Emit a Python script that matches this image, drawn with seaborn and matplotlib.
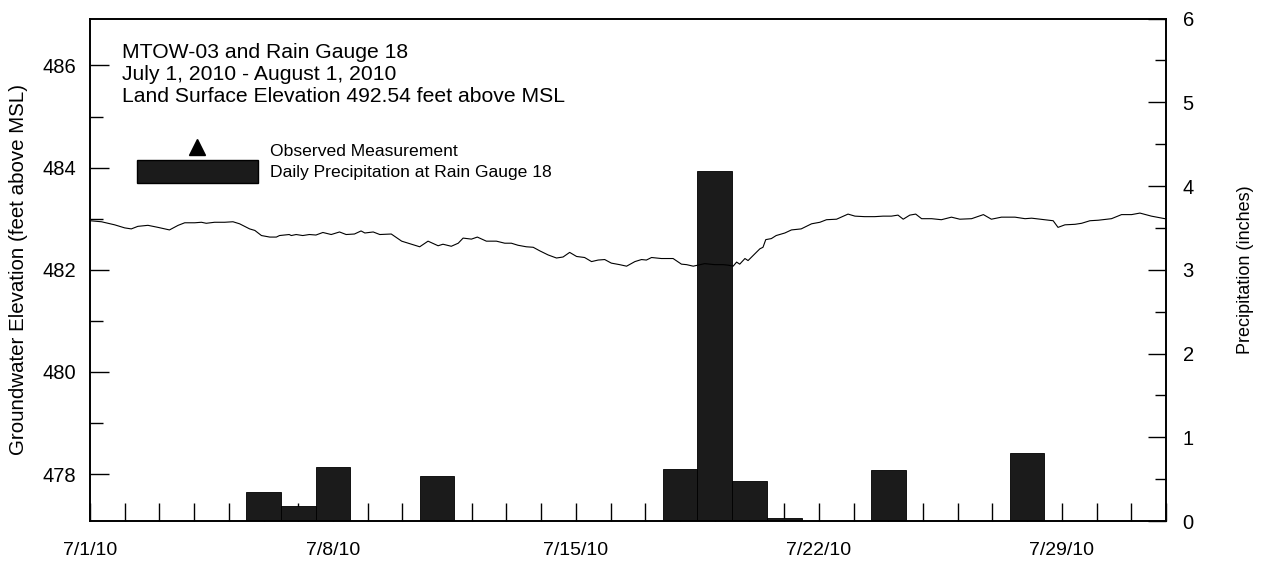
import pandas as pd
import seaborn as sns
import matplotlib.pyplot as plt
import matplotlib.dates as mdates
from matplotlib.ticker import MultipleLocator, FuncFormatter
from matplotlib.lines import Line2D
from matplotlib.patches import Patch

# Groundwater level at MTOW-03 (days after 7/1/2010, feet above MSL)
gw_day = [0.00, 0.33, 0.71, 1.00, 1.19, 1.38, 1.67, 1.96, 2.29, 2.54, 2.73, 3.02, 3.21, 3.35,
          3.59, 3.88, 4.12, 4.31, 4.60, 4.75, 4.94, 5.18, 5.37, 5.46, 5.74, 5.80, 5.94, 6.13,
          6.32, 6.51, 6.71, 6.95, 7.19, 7.38, 7.62, 7.81, 7.92, 8.16, 8.35, 8.68, 8.98, 9.26,
          9.50, 9.74, 10.03, 10.17, 10.41, 10.61, 10.75, 10.99, 11.16, 11.42, 11.71, 11.95,
          12.14, 12.33, 12.57, 12.77, 12.96, 13.20, 13.44, 13.63, 13.82, 14.02, 14.25, 14.45,
          14.64, 14.83, 15.02, 15.26, 15.46, 15.70, 15.89, 16.03, 16.18, 16.46, 16.80, 17.04,
          17.19, 17.38, 17.57, 17.71, 18.00, 18.24, 18.39, 18.53, 18.63, 18.72, 18.87, 18.96,
          19.15, 19.30, 19.39, 19.47, 19.63, 19.77, 20.02, 20.21, 20.49, 20.79, 21.03, 21.22,
          21.51, 21.84, 22.04, 22.32, 22.61, 22.85, 23.09, 23.28, 23.43, 23.62, 23.79, 23.96,
          24.25, 24.53, 24.82, 25.06, 25.40, 25.74, 25.97, 26.26, 26.65, 26.94, 27.13, 27.51,
          27.75, 27.89, 28.09, 28.38, 28.57, 28.81, 29.05, 29.43, 29.72, 30.01, 30.25, 30.58,
          30.97]
gw_elev = [482.96, 482.94, 482.88, 482.82, 482.80, 482.85, 482.87, 482.83, 482.78, 482.87,
           482.92, 482.92, 482.93, 482.91, 482.93, 482.93, 482.94, 482.90, 482.80, 482.77,
           482.67, 482.64, 482.64, 482.67, 482.69, 482.67, 482.69, 482.67, 482.69, 482.68,
           482.73, 482.69, 482.74, 482.69, 482.70, 482.76, 482.72, 482.74, 482.69, 482.70,
           482.56, 482.50, 482.45, 482.56, 482.47, 482.50, 482.46, 482.52, 482.62, 482.60,
           482.64, 482.56, 482.56, 482.52, 482.52, 482.48, 482.45, 482.44, 482.37, 482.29,
           482.23, 482.25, 482.34, 482.26, 482.24, 482.16, 482.19, 482.20, 482.13, 482.10,
           482.07, 482.16, 482.20, 482.19, 482.24, 482.22, 482.22, 482.11, 482.10, 482.07,
           482.10, 482.12, 482.10, 482.10, 482.09, 482.07, 482.15, 482.11, 482.22, 482.18,
           482.31, 482.41, 482.44, 482.59, 482.61, 482.67, 482.72, 482.78, 482.80, 482.90,
           482.93, 482.98, 482.99, 483.09, 483.05, 483.04, 483.04, 483.05, 483.05, 483.07,
           482.99, 483.07, 483.09, 483.00, 483.00, 482.98, 483.03, 482.99, 483.00, 483.08,
           482.99, 483.03, 483.03, 483.00, 483.01, 482.98, 482.96, 482.83, 482.88, 482.89,
           482.91, 482.96, 482.97, 483.00, 483.08, 483.08, 483.11, 483.05, 483.00]

# Daily precipitation at Rain Gauge 18 (inches)
rain_dates = ["2010-07-06", "2010-07-07", "2010-07-08", "2010-07-11", "2010-07-18",
              "2010-07-19", "2010-07-20", "2010-07-21", "2010-07-24", "2010-07-28"]
rain_in = [0.35, 0.18, 0.65, 0.54, 0.62, 4.18, 0.48, 0.04, 0.61, 0.81]

xtick_dates = ["2010-07-01", "2010-07-08", "2010-07-15", "2010-07-22", "2010-07-29"]
title_lines = ["MTOW-03 and Rain Gauge 18",
               "July 1, 2010 - August 1, 2010",
               "Land Surface Elevation 492.54 feet above MSL"]

start = pd.Timestamp("2010-07-01")
gw = pd.DataFrame({"date": start + pd.to_timedelta(gw_day, unit="D"), "elev": gw_elev})
rain = pd.DataFrame({"date": pd.to_datetime(rain_dates), "inches": rain_in})

sns.set_style("ticks")
plt.rcParams['font.family'] = ['Liberation Sans', 'DejaVu Sans']
plt.rcParams['text.color'] = 'black'
plt.rcParams['axes.labelcolor'] = 'black'
plt.rcParams['xtick.color'] = 'black'
plt.rcParams['ytick.color'] = 'black'

fig = plt.figure(figsize=(12.62, 5.61), dpi=100)
ax = fig.add_axes([0.0713, 0.0713, 0.8526, 0.8957])
ax2 = ax.twinx()

# bars sit in the twin axes, underneath the groundwater line
ax2.bar(rain["date"], rain["inches"], width=1.0, align="center",
        color="#1b1b1b", edgecolor="black", linewidth=0.6)
sns.lineplot(data=gw, x="date", y="elev", ax=ax, color="black", linewidth=0.8)

ax.set_zorder(ax2.get_zorder() + 1)
ax.patch.set_visible(False)

ax.set_xlim(start, pd.Timestamp("2010-08-01"))
ax.set_ylim(477.08, 486.92)
ax2.set_ylim(0, 6)

# x axis lives on the lower axes so the bars hide the day ticks
ax.xaxis.set_visible(False)
ax2.xaxis.set_visible(True)
ax2.set_axisbelow(True)
ax2.set_xticks(pd.to_datetime(xtick_dates))
ax2.xaxis.set_minor_locator(mdates.DayLocator())
ax2.xaxis.set_major_formatter(FuncFormatter(
    lambda v, pos: "{d.month}/{d.day}/{y}".format(d=mdates.num2date(v), y=mdates.num2date(v).year % 100)))
ax2.tick_params(axis="x", which="both", direction="in", length=13, width=1,
                pad=15, labelsize=14)

ax.yaxis.set_major_locator(MultipleLocator(2))
ax.yaxis.set_minor_locator(MultipleLocator(1))
ax.tick_params(axis="y", which="major", direction="in", length=14, width=1, pad=10, labelsize=14.5)
ax.tick_params(axis="y", which="minor", direction="in", length=9, width=1)

ax2.yaxis.set_major_locator(MultipleLocator(1))
ax2.yaxis.set_minor_locator(MultipleLocator(0.5))
ax2.tick_params(axis="y", which="major", direction="in", length=13, width=1, pad=12, labelsize=14.5)
ax2.tick_params(axis="y", which="minor", direction="in", length=8, width=1)

for a in (ax, ax2):
    for sp in a.spines.values():
        sp.set_visible(True)
        sp.set_color("black")
        sp.set_linewidth(1.2)

ax.set_xlabel("")
ax2.set_xlabel("")
ax.set_ylabel("Groundwater Elevation (feet above MSL)", fontsize=14.8)
ax.yaxis.set_label_coords(-0.058, 0.5)
ax2.set_ylabel("Precipitation (inches)", fontsize=13)
ax2.yaxis.set_label_coords(1.066, 0.5)

for i, line in enumerate(title_lines):
    ax.text(0.0297, 0.933 - i * 0.0438, line, transform=ax.transAxes,
            ha="left", va="center", fontsize=15.2)

handles = [Line2D([], [], marker="^", color="black", linestyle="None", markersize=12),
           Patch(facecolor="#1b1b1b", edgecolor="black")]
ax.legend(handles, ["Observed Measurement", "Daily Precipitation at Rain Gauge 18"],
          loc="upper left", bbox_to_anchor=(0.0437, 0.762), frameon=False, fontsize=12.6,
          handlelength=6.9, handleheight=1.7, handletextpad=0.7, labelspacing=-0.11,
          borderpad=0, borderaxespad=0)

fig.savefig("out.png", dpi=100)
plt.close(fig)
